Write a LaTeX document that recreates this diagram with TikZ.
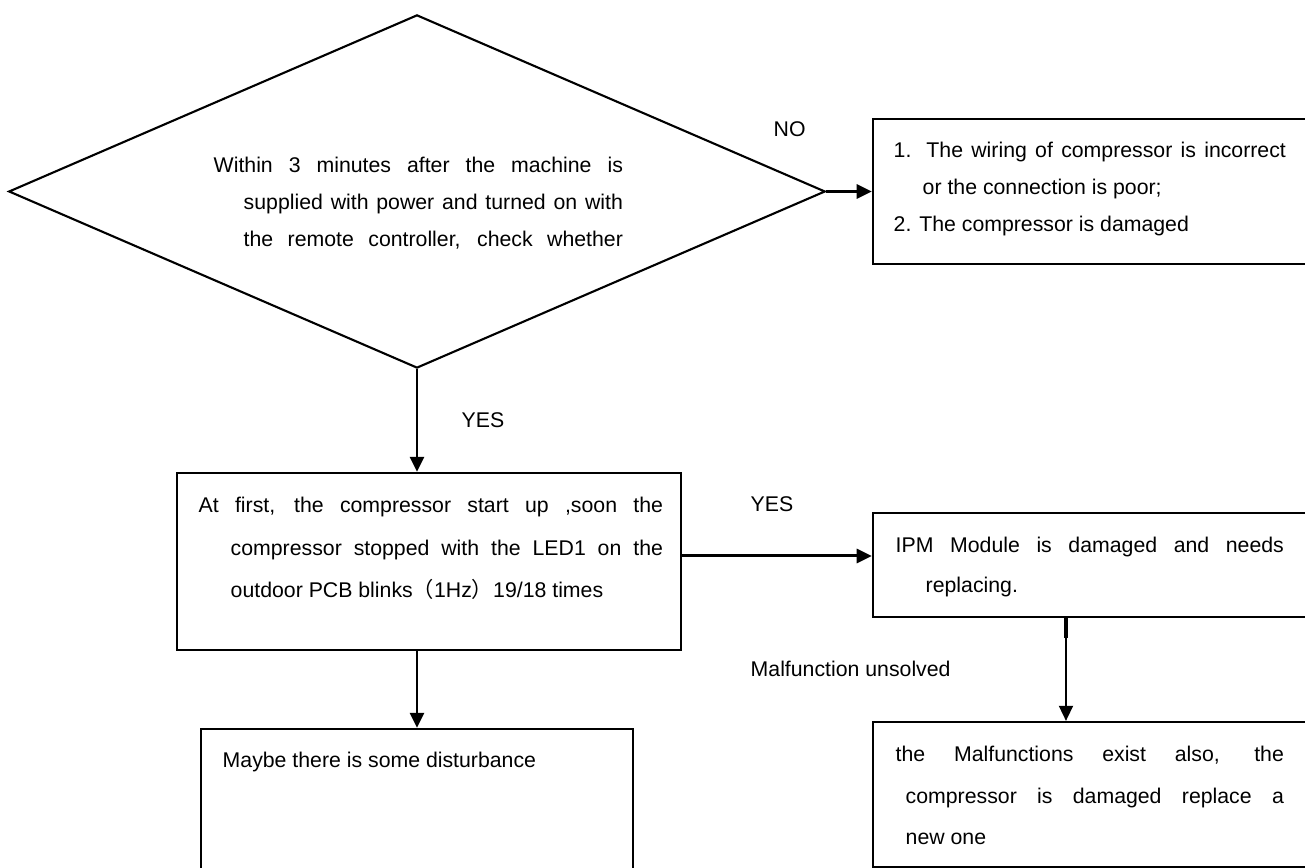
\documentclass[tikz,border=0pt]{standalone}
\usepackage{fontspec}
\setmainfont{Liberation Sans}
\newfontfamily\cjkfont{Noto Sans CJK SC}
\usepackage{tikz}
\usetikzlibrary{calc}
\usetikzlibrary{arrows.meta}
\usetikzlibrary{shapes.geometric}

% one line spread out to a given width
\newcommand{\spreadline}[2]{\makebox[#1][s]{#2}}

\begin{document}
\begin{tikzpicture}[x=0.01cm, y=-0.01cm,
    box/.style={draw, line width=0.6pt, rectangle, inner sep=0pt},
    txt/.style={anchor=base west, inner sep=0pt, font=\fontsize{6.05pt}{10.5pt}\selectfont},
    arr/.style={-{Triangle[length=4.3pt,width=4pt]}, line width=0.85pt}]
    \clip (0,0) rectangle (1305,868);

    % decision
    \node[diamond, draw, line width=0.6pt, inner sep=0pt,
      minimum width=8.16cm, minimum height=3.53cm] (dec) at (417,191.5) {};
    \node[txt] (dectext) at (213,173) {\parbox[t]{4.2cm}{%
      \spreadline{4.09cm}{Within 3 minutes after the machine is}\\
      \hspace*{0.3cm}\spreadline{3.79cm}{supplied with power and turned on with}\\
      \hspace*{0.3cm}\spreadline{3.79cm}{the remote controller, check whether}}};

    % boxes
    \node[box, minimum width=4.4cm, minimum height=1.45cm] (b1) at (1093,191.5) {};
    \node[box, minimum width=5.04cm, minimum height=1.77cm] (b2) at (429,561.5) {};
    \node[box, minimum width=4.4cm, minimum height=1.04cm] (b3) at (1093,565) {};
    \node[box, minimum width=4.4cm, minimum height=1.45cm] (b4) at (1093,794.5) {};
    \node[box, minimum width=4.32cm, minimum height=1.51cm] (b5) at (417,804.5) {};

    \node[txt] (b1text) at (893,158) {\parbox[t]{4.1cm}{%
      \spreadline{3.92cm}{1. The wiring of compressor is incorrect}\\
      \hspace*{0.29cm}or the connection is poor;\\
      2. The compressor is damaged}};
    \node[txt, font=\fontsize{6.05pt}{11.95pt}\selectfont] (b2text) at (198,513) {\parbox[t]{4.8cm}{%
      \spreadline{4.64cm}{At first, the compressor start up ,soon the}\\
      \hspace*{0.32cm}\spreadline{4.32cm}{compressor stopped with the LED1 on the}\\
      \hspace*{0.32cm}outdoor PCB blinks{\cjkfont （}1Hz{\cjkfont ）}19/18 times}};
    \node[txt, font=\fontsize{6.05pt}{11.1pt}\selectfont] (b3text) at (895,553) {\parbox[t]{4.1cm}{%
      \spreadline{3.88cm}{IPM Module is damaged and needs}\\
      \hspace*{0.3cm}replacing.}};
    \node[txt, font=\fontsize{6.05pt}{11.8pt}\selectfont] (b4text) at (895,762) {\parbox[t]{4.1cm}{%
      \spreadline{3.88cm}{the Malfunctions exist also, the}\\
      \hspace*{0.1cm}\spreadline{3.78cm}{compressor is damaged replace a}\\
      \hspace*{0.1cm}new one}};
    \node[txt] (b5text) at (222,768) {Maybe there is some disturbance};

    % labels
    \node[txt] (lno) at (773,137) {NO};
    \node[txt] (lyesdown) at (461,428) {YES};
    \node[txt] (lyesright) at (750,512) {YES};
    \node[txt] (lunsolved) at (750,677) {Malfunction unsolved};

    % connectors
    \draw[arr] (dec.east) -- (dec.east -| b1.west);
    \draw[arr] (dec.south) -- (dec.south |- b2.north);
    \draw[arr] ([yshift=0.055cm]b2.east) -- ([yshift=0.055cm]b2.east -| b3.west);
    \draw[arr] (b5.north |- b2.south) -- (b5.north);
    \draw[line width=1.1pt] ([xshift=-0.27cm]b3.south) -- ++(0,20);
    \draw[-{Triangle[length=4.3pt,width=4pt]}, line width=0.5pt]
      ([xshift=-0.27cm]b3.south) -- ([xshift=-0.27cm]b4.north);
\end{tikzpicture}
\end{document}
